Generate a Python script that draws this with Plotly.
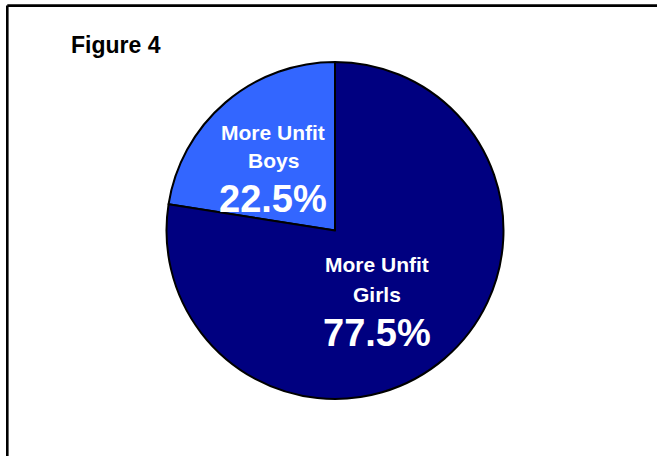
import plotly.graph_objects as go

# Share of unfit pupils by group
groups = ["Boys", "Girls"]
shares = [22.5, 77.5]
label_prefix = "More Unfit"
slice_colors = ["#3366FF", "#000080"]
title_text = "Figure 4"

W, H = 657, 456


def px(x):
    return x / W


def py(y):
    return 1 - y / H


# Pie geometry (pixels)
cx, cy, r = 335, 230.5, 168.5

# Boys slice ends at 12 o'clock, so start it that far before the top
start_angle = -shares[0] / sum(shares) * 360

fig = go.Figure(
    go.Pie(
        labels=[f"{label_prefix} {g}" for g in groups],
        values=shares,
        sort=False,
        direction="clockwise",
        rotation=start_angle,
        marker=dict(colors=slice_colors, line=dict(color="black", width=2)),
        textinfo="none",
        hoverinfo="label+percent",
        showlegend=False,
        domain=dict(x=[px(cx - r), px(cx + r)], y=[py(cy + r), py(cy - r)]),
    )
)

# Label placement for each slice: (center x, y of prefix line, y of group line, y of value)
label_pos = [(273, 132, 160, 199), (377, 264.5, 294, 332.5)]

annotations = []
for g, s, (lx, y1, y2, y3) in zip(groups, shares, label_pos):
    for text, yy, size in [
        (label_prefix, y1, 21),
        (g, y2, 21),
        (f"{s:.1f}%", y3, 38),
    ]:
        annotations.append(
            dict(
                text=f"<b>{text}</b>",
                x=px(lx), y=py(yy), xref="paper", yref="paper",
                xanchor="center", yanchor="middle", showarrow=False,
                font=dict(family="Liberation Sans, Arial", size=size, color="white"),
            )
        )

annotations.append(
    dict(
        text=f"<b>{title_text}</b>",
        x=px(69), y=py(45.5), xref="paper", yref="paper",
        xanchor="left", yanchor="middle", showarrow=False,
        font=dict(family="Liberation Sans, Arial", size=23, color="black"),
    )
)

# Frame around the figure
shapes = [
    dict(type="line", xref="paper", yref="paper",
         x0=px(7.3), x1=1.1, y0=py(5.6), y1=py(5.6),
         line=dict(color="black", width=2.6)),
    dict(type="line", xref="paper", yref="paper",
         x0=px(7.3), x1=px(7.3), y0=py(5.6), y1=-0.1,
         line=dict(color="black", width=2.6)),
]

fig.update_layout(
    width=W, height=H,
    margin=dict(l=0, r=0, t=0, b=0),
    paper_bgcolor="white", plot_bgcolor="white",
    annotations=annotations,
    shapes=shapes,
)

fig.write_html("out.html")
